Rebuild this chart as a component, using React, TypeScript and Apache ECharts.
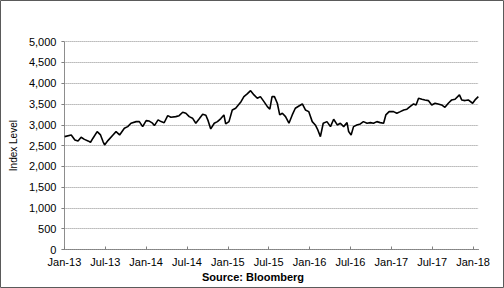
import React, { useEffect, useRef } from "react";
import * as echarts from "echarts";

const dates: string[] = [
  "2013-01-02","2013-02-01","2013-02-16","2013-03-01","2013-03-15","2013-03-30","2013-04-15","2013-04-26",
  "2013-05-07","2013-05-26","2013-06-10","2013-06-21","2013-06-28","2013-07-13","2013-08-05","2013-08-19",
  "2013-09-04","2013-09-25","2013-10-10","2013-10-25","2013-11-17","2013-12-01","2013-12-16","2014-01-01",
  "2014-01-15","2014-01-30","2014-02-07","2014-02-22","2014-03-07","2014-03-21","2014-04-06","2014-04-20",
  "2014-05-12","2014-05-27","2014-06-12","2014-06-26","2014-07-11","2014-07-26","2014-08-10","2014-08-24",
  "2014-09-10","2014-09-24","2014-10-04","2014-10-16","2014-11-01","2014-11-15","2014-11-30","2014-12-14",
  "2014-12-22","2015-01-06","2015-01-21","2015-02-05","2015-02-27","2015-03-12","2015-03-27","2015-04-11",
  "2015-04-26","2015-05-11","2015-05-25","2015-06-10","2015-06-25","2015-07-06","2015-07-16","2015-07-27",
  "2015-08-09","2015-08-20","2015-09-01","2015-09-15","2015-09-30","2015-10-15","2015-10-29","2015-11-14",
  "2015-11-29","2015-12-13","2015-12-28","2016-01-13","2016-01-27","2016-02-07","2016-02-18","2016-03-01",
  "2016-03-18","2016-04-03","2016-04-17","2016-05-03","2016-05-17","2016-06-01","2016-06-16","2016-06-23",
  "2016-07-04","2016-07-15","2016-07-30","2016-08-15","2016-08-29","2016-09-14","2016-09-29","2016-10-13",
  "2016-10-28","2016-11-12","2016-11-27","2016-12-07","2016-12-22","2017-01-11","2017-01-26","2017-02-10",
  "2017-02-24","2017-03-10","2017-03-24","2017-04-09","2017-04-20","2017-05-01","2017-05-16","2017-05-30",
  "2017-06-14","2017-06-29","2017-07-14","2017-07-28","2017-08-13","2017-08-28","2017-09-12","2017-09-27",
  "2017-10-12","2017-11-01","2017-11-11","2017-11-26","2017-12-10","2017-12-30","2018-01-10","2018-01-25",
];

const indexLevel: number[] = [
  2716,2757,2637,2610,2700,2650,2613,2580,
  2678,2837,2757,2597,2517,2620,2757,2837,
  2757,2918,2957,3038,3077,3077,2957,3100,
  3090,3040,2981,3118,3077,3050,3222,3183,
  3197,3220,3303,3280,3197,3160,3038,3134,
  3254,3230,3100,2901,3038,3077,3150,3238,
  3022,3077,3358,3399,3558,3678,3743,3822,
  3719,3639,3678,3558,3437,3375,3678,3678,
  3519,3238,3278,3197,3038,3238,3399,3454,
  3502,3358,3318,3077,2997,2877,2716,3038,
  3077,2957,3134,2997,3038,2957,3053,2837,
  2757,2957,2997,3022,3077,3038,3053,3038,
  3077,3053,3038,3238,3318,3318,3278,3318,
  3358,3375,3437,3502,3478,3639,3615,3599,
  3583,3478,3519,3502,3478,3422,3519,3599,
  3615,3719,3599,3583,3599,3519,3599,3678,
];

const monthNames: string[] = ["Jan", "Jul"];
const startYear = 2013;
const yTicks: number[] = [0, 500, 1000, 1500, 2000, 2500, 3000, 3500, 4000, 4500, 5000];

function monthIndex(d: string): number {
  const [y, m, day] = d.split("-").map(Number);
  const dim = new Date(Date.UTC(y, m, 0)).getUTCDate();
  return (y - startYear) * 12 + (m - 1) + (day - 1) / dim;
}

const FONT = "'Liberation Sans', Arial, sans-serif";

export default function App() {
  const ref = useRef<HTMLDivElement>(null);
  useEffect(() => {
    if (!ref.current) return;
    const chart = echarts.init(ref.current, undefined, { renderer: "svg" });
    const data = dates.map((d, i) => [monthIndex(d), indexLevel[i]]);
    chart.setOption({
      animation: false,
      backgroundColor: "#ffffff",
      grid: { left: 63, right: 25.5, top: 41.7, bottom: 38.5, containLabel: false },
      xAxis: {
        type: "value",
        min: 0,
        max: 60.8,
        interval: 6,
        axisLine: { show: true, lineStyle: { color: "#808080", width: 1, type: "dotted" } },
        axisTick: { show: true, inside: true, length: 3, lineStyle: { color: "#808080" } },
        splitLine: { show: false },
        axisLabel: {
          color: "#000",
          fontFamily: FONT,
          fontSize: 11,
          margin: 7,
          showMaxLabel: false,
          formatter: (v: number) => {
            const half = Math.round(v / 6);
            const yr = 13 + Math.floor(half / 2);
            return monthNames[half % 2] + "-" + yr;
          },
        },
      },
      yAxis: {
        type: "value",
        min: yTicks[0],
        max: yTicks[yTicks.length - 1],
        interval: 500,
        name: "Index Level",
        nameLocation: "middle",
        nameGap: 46,
        nameTextStyle: { color: "#000", fontFamily: FONT, fontSize: 10 },
        axisLine: { show: true, lineStyle: { color: "#808080", width: 1, type: "dotted" } },
        axisTick: { show: true, inside: false, length: 3, lineStyle: { color: "#808080" } },
        splitLine: { show: true, lineStyle: { color: "#8c8c8c", width: 1, type: "dotted" } },
        axisLabel: {
          color: "#000",
          fontFamily: FONT,
          fontSize: 11,
          margin: 8,
          formatter: (v: number) => v.toLocaleString("en-US"),
        },
      },
      series: [
        {
          type: "line",
          data,
          showSymbol: false,
          symbol: "none",
          lineStyle: { color: "#000", width: 1.6 },
          silent: true,
        },
      ],
      graphic: [
        {
          type: "rect",
          shape: { x: 0.5, y: 0.5, width: 503, height: 287 },
          style: { fill: "none", stroke: "#5a5a5a", lineWidth: 1 },
          silent: true,
        },
        {
          type: "text",
          x: 253,
          y: 277,
          style: {
            text: "Source: Bloomberg",
            fill: "#000",
            font: `bold 11px ${FONT}`,
            textAlign: "center",
            textVerticalAlign: "middle",
          },
        },
      ],
    });
    return () => chart.dispose();
  }, []);
  return (
    <div
      ref={ref}
      style={{ position: "absolute", left: 0, top: 0, width: 504, height: 288 }}
    />
  );
}
